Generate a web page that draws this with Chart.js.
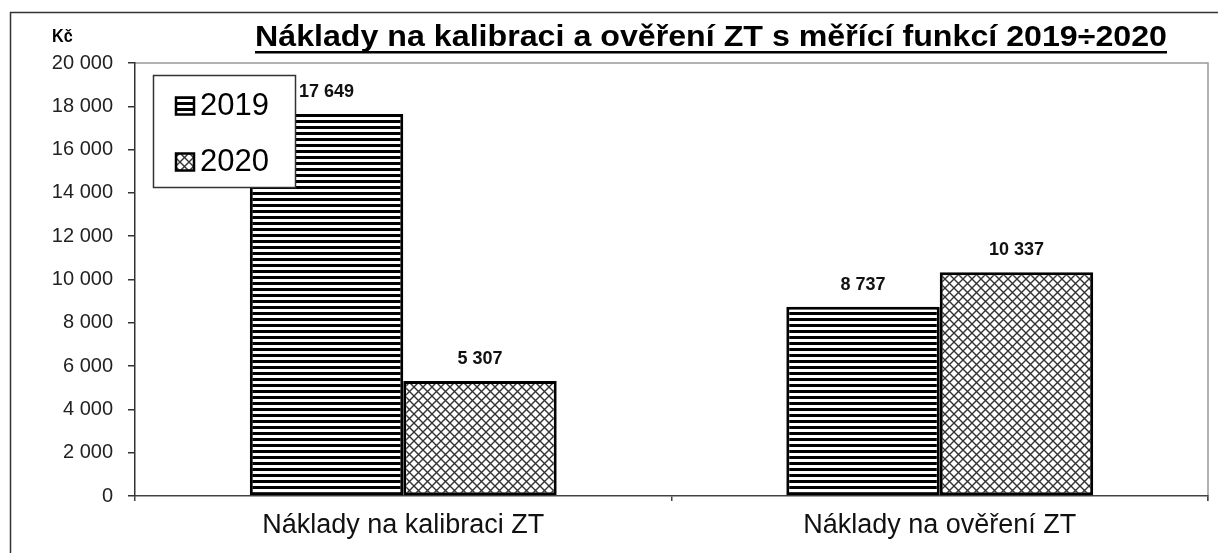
<!DOCTYPE html>
<html lang="cs">
<head>
<meta charset="utf-8">
<title>Náklady na kalibraci a ověření ZT</title>
<script src="https://cdn.jsdelivr.net/npm/chart.js@4.4.1/dist/chart.umd.min.js"></script>
<style>
    body { margin: 0; background: #fff; }
    #wrap { width: 1218px; height: 553px; }
</style>
</head>
<body>
<div id="wrap"><canvas id="myChart"></canvas></div>
<script>
const categories = ['Náklady na kalibraci ZT', 'Náklady na ověření ZT'];
const years = ['2019', '2020'];
const costs2019 = [17649, 8737];
const costs2020 = [5307, 10337];
const yMin = 0;
const yMax = 20000;
const yStep = 2000;

const titleText = 'Náklady na kalibraci a ověření ZT s měřící funkcí 2019÷2020';
const unitText = 'Kč';

const sans = '"Liberation Sans", Arial, sans-serif';

function formatNum(v) {
    return String(v).replace(/\B(?=(\d{3})+(?!\d))/g, ' ');
}

// horizontal stripes for 2019
function stripePattern() {
    const c = document.createElement('canvas');
    c.width = 6;
    c.height = 6;
    const g = c.getContext('2d');
    g.fillStyle = '#fff';
    g.fillRect(0, 0, 6, 6);
    g.fillStyle = '#000';
    g.fillRect(0, 0, 6, 3);
    return g.createPattern(c, 'repeat');
}

// diagonal cross hatch for 2020
function hatchPattern() {
    const s = 9;
    const c = document.createElement('canvas');
    c.width = s;
    c.height = s;
    const g = c.getContext('2d');
    g.fillStyle = '#fff';
    g.fillRect(0, 0, s, s);
    g.strokeStyle = '#333';
    g.lineWidth = 1.4;
    g.beginPath();
    g.moveTo(-1, -1); g.lineTo(s + 1, s + 1);
    g.moveTo(s + 1, -1); g.lineTo(-1, s + 1);
    g.stroke();
    return g.createPattern(c, 'repeat');
}

// squeezed text, the fonts here have no narrow cut
function narrowText(ctx, text, x, y, sx) {
    ctx.save();
    ctx.translate(x, y);
    ctx.scale(sx, 1);
    ctx.fillText(text, 0, 0);
    ctx.restore();
}

const frame = {
    id: 'frame',
    beforeDraw(chart) {
        const ctx = chart.ctx;
        const a = chart.chartArea;
        ctx.save();
        ctx.fillStyle = '#fff';
        ctx.fillRect(0, 0, chart.width, chart.height);
        ctx.strokeStyle = '#333';
        ctx.lineWidth = 1.5;
        ctx.strokeRect(10.5, 12.5, chart.width + 20, chart.height + 20);
        // light frame on top and right of the plot
        ctx.strokeStyle = '#999';
        ctx.lineWidth = 1.5;
        ctx.beginPath();
        ctx.moveTo(a.left, a.top);
        ctx.lineTo(a.right, a.top);
        ctx.lineTo(a.right, a.bottom + 5);
        ctx.stroke();
        ctx.restore();
    },
    afterDraw(chart) {
        const ctx = chart.ctx;
        ctx.save();
        // title, underlined
        ctx.fillStyle = '#000';
        ctx.font = 'bold 30px ' + sans;
        ctx.textBaseline = 'alphabetic';
        const w = ctx.measureText(titleText).width;
        const target = 912;
        const left = 255;
        narrowText(ctx, titleText, left, 46, target / w);
        ctx.fillRect(left, 51, target, 2.5);
        // unit
        ctx.font = 'bold 18px ' + sans;
        narrowText(ctx, unitText, 52, 42, 0.9);
        ctx.restore();
    }
};

const valueLabels = {
    id: 'valueLabels',
    afterDatasetsDraw(chart) {
        const ctx = chart.ctx;
        ctx.save();
        ctx.fillStyle = '#111';
        ctx.font = 'bold 18px ' + sans;
        ctx.textAlign = 'center';
        ctx.textBaseline = 'middle';
        chart.data.datasets.forEach((ds, i) => {
            chart.getDatasetMeta(i).data.forEach((bar, j) => {
                ctx.fillText(formatNum(ds.data[j]), bar.x, bar.y - 22);
            });
        });
        ctx.restore();
    }
};

const boxLegend = {
    id: 'boxLegend',
    afterDraw(chart) {
        const ctx = chart.ctx;
        const x = 153.5, y = 75.5, w = 142, h = 112;
        ctx.save();
        ctx.fillStyle = '#fff';
        ctx.fillRect(x, y, w, h);
        ctx.strokeStyle = '#333';
        ctx.lineWidth = 1.5;
        ctx.strokeRect(x, y, w, h);
        ctx.font = '31px ' + sans;
        ctx.textBaseline = 'middle';
        chart.data.datasets.forEach((ds, i) => {
            const cy = y + 30 + i * 56;
            ctx.fillStyle = ds.backgroundColor;
            ctx.fillRect(176, cy - 8, 18, 17);
            ctx.strokeStyle = '#000';
            ctx.lineWidth = 2.5;
            ctx.strokeRect(176, cy - 8, 18, 17);
            ctx.fillStyle = '#000';
            ctx.fillText(ds.label, 200, cy + 1);
        });
        ctx.restore();
    }
};

function drawChart() {
    const ctx = document.getElementById('myChart');
    new Chart(ctx, {
        type: 'bar',
        data: {
            labels: categories,
            datasets: [{
                label: years[0],
                data: costs2019,
                backgroundColor: stripePattern(),
                borderColor: '#000',
                borderWidth: 3,
                borderSkipped: false
            }, {
                label: years[1],
                data: costs2020,
                backgroundColor: hatchPattern(),
                borderColor: '#000',
                borderWidth: 3,
                borderSkipped: false
            }]
        },
        options: {
            responsive: true,
            maintainAspectRatio: false,
            animation: false,
            devicePixelRatio: 1,
            layout: { padding: { top: 63, right: 10, left: 0, bottom: 0 } },
            datasets: {
                bar: { categoryPercentage: 0.572, barPercentage: 1 }
            },
            plugins: {
                legend: { display: false },
                tooltip: { enabled: false }
            },
            scales: {
                x: {
                    afterFit: s => { s.height = 57; },
                    grid: { drawOnChartArea: false, tickLength: 5, color: '#444', lineWidth: 1.5 },
                    border: { color: '#444', width: 1.5 },
                    ticks: { color: '#111', padding: 8, font: { family: sans, size: 27 } }
                },
                y: {
                    min: yMin,
                    max: yMax,
                    afterFit: s => { s.width = 135; },
                    grid: { drawOnChartArea: false, tickLength: 7, color: '#333', lineWidth: 1.5 },
                    border: { color: '#333', width: 1.5 },
                    ticks: {
                        stepSize: yStep,
                        padding: 15,
                        color: '#222',
                        font: { family: sans, size: 20 },
                        callback: v => formatNum(v)
                    }
                }
            }
        },
        plugins: [frame, valueLabels, boxLegend]
    });
}

drawChart();
</script>
</body>
</html>
